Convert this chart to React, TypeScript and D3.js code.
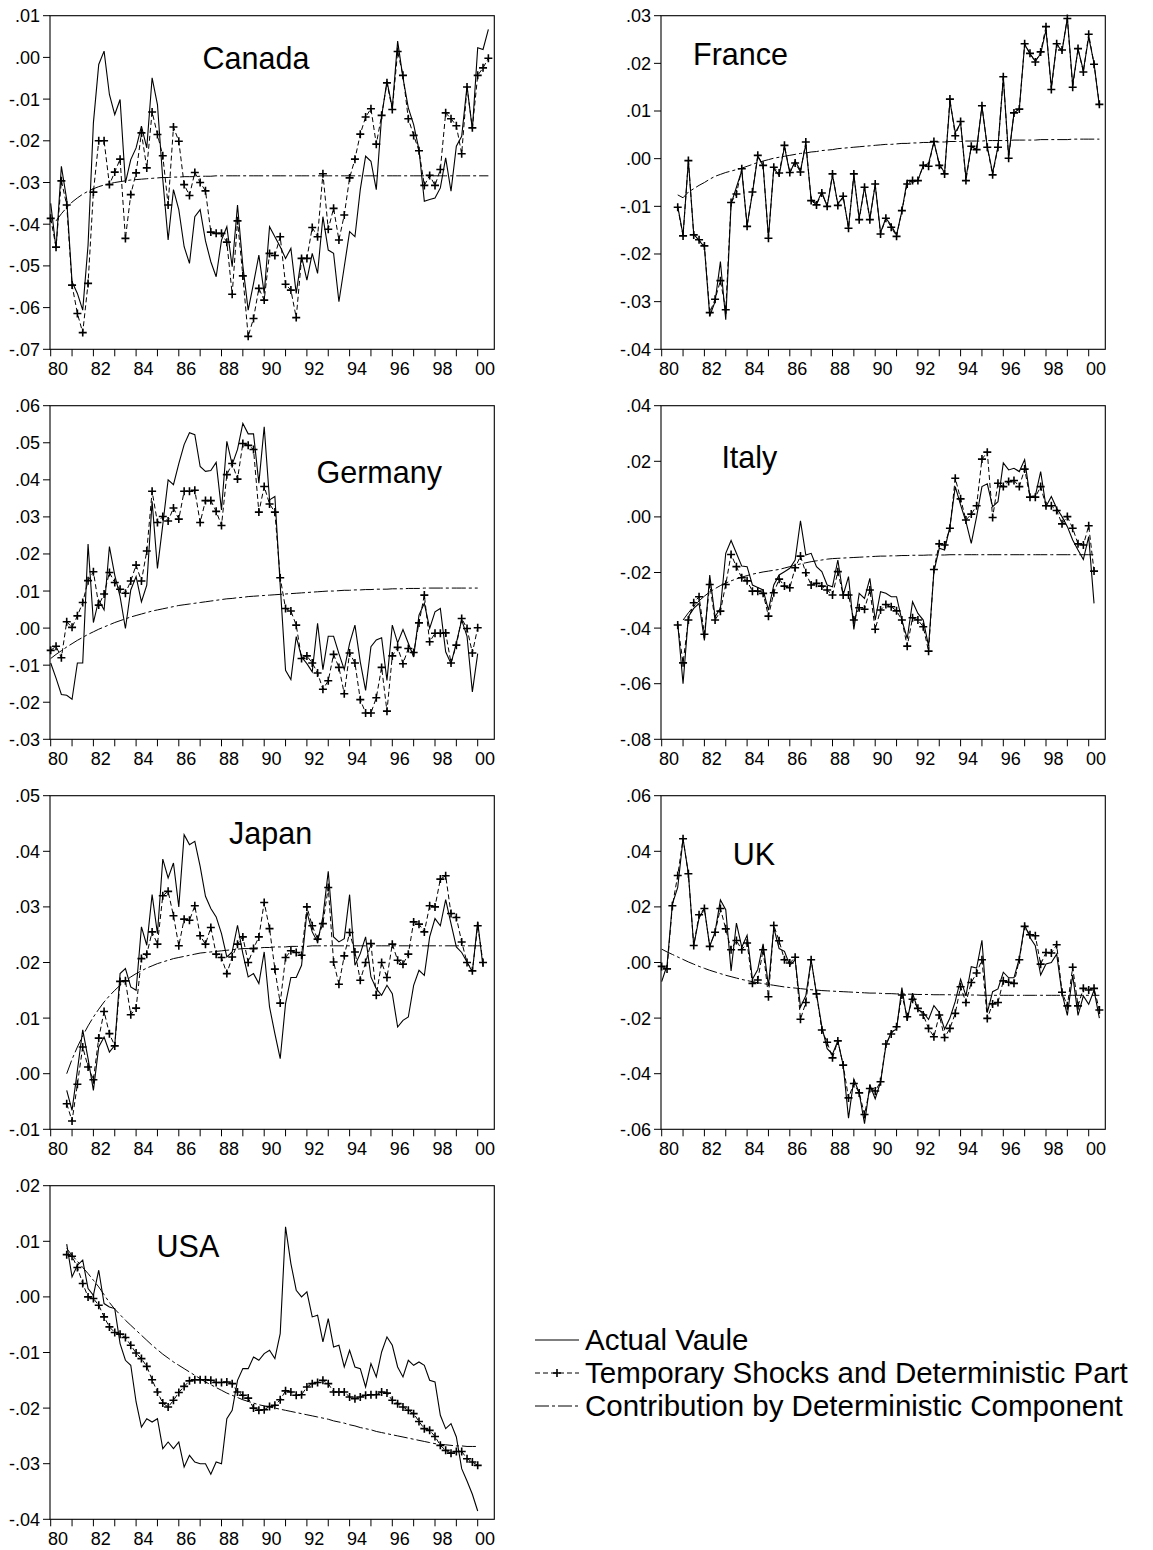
import React from "react";
import * as d3 from "d3";

// ---------- DATA (quarterly, index 0 = 1980Q1) ----------
const yearTicks = [1980,1981,1982,1983,1984,1985,1986,1987,1988,1989,1990,1991,1992,1993,1994,1995,1996,1997,1998,1999,2000];
const yearLabels = ["80","82","84","86","88","90","92","94","96","98","00"];

// Canada
const canadaActualStart = 0;
const canadaActual = [-.0350,-.0458,-.0261,-.0341,-.0538,-.0566,-.0606,-.0450,-.0157,-.0017,.0015,-.0089,-.0137,-.0101,-.0301,-.0245,-.0217,-.0165,-.0217,-.0049,-.0113,-.0293,-.0438,-.0317,-.0365,-.0454,-.0494,-.0382,-.0365,-.0440,-.0490,-.0526,-.0438,-.0406,-.0502,-.0354,-.0500,-.0606,-.0542,-.0474,-.0566,-.0406,-.0430,-.0454,-.0482,-.0458,-.0566,-.0478,-.0534,-.0470,-.0518,-.0382,-.0462,-.0470,-.0586,-.0502,-.0418,-.0430,-.0317,-.0237,-.0249,-.0317,-.0141,-.0057,-.0121,.0039,-.0049,-.0121,-.0161,-.0221,-.0345,-.0341,-.0337,-.0313,-.0241,-.0321,-.0213,-.0189,-.0069,-.0173,.0023,.0019,.0067];
const canadaTempStart = 0;
const canadaTemp = [-.0386,-.0455,-.0296,-.0354,-.0546,-.0614,-.0660,-.0542,-.0323,-.0200,-.0200,-.0305,-.0275,-.0244,-.0434,-.0329,-.0277,-.0181,-.0265,-.0131,-.0185,-.0236,-.0354,-.0167,-.0201,-.0305,-.0331,-.0276,-.0300,-.0320,-.0419,-.0422,-.0422,-.0443,-.0568,-.0392,-.0524,-.0669,-.0626,-.0554,-.0582,-.0470,-.0475,-.0430,-.0544,-.0558,-.0624,-.0482,-.0482,-.0408,-.0430,-.0279,-.0412,-.0362,-.0438,-.0378,-.0289,-.0244,-.0184,-.0143,-.0123,-.0208,-.0139,-.0061,-.0125,.0014,-.0043,-.0147,-.0187,-.0224,-.0307,-.0283,-.0307,-.0269,-.0133,-.0147,-.0164,-.0231,-.0071,-.0169,-.0043,-.0025,-.0002];
const canadaDetStart = 1;
const canadaDet = [-.0392,-.0375,-.0360,-.0347,-.0337,-.0328,-.0321,-.0315,-.0310,-.0306,-.0303,-.0300,-.0298,-.0296,-.0294,-.0293,-.0292,-.0291,-.0290,-.0289,-.0288,-.0288,-.0287,-.0287,-.0286,-.0286,-.0286,-.0285,-.0285,-.0285,-.0284,-.0284,-.0284,-.0284,-.0284,-.0284,-.0284,-.0284,-.0284,-.0284,-.0284,-.0284,-.0284,-.0284,-.0284,-.0284,-.0284,-.0284,-.0284,-.0284,-.0284,-.0284,-.0284,-.0284,-.0284,-.0284,-.0284,-.0284,-.0284,-.0284,-.0284,-.0284,-.0284,-.0284,-.0284,-.0284,-.0284,-.0284,-.0284,-.0284,-.0284,-.0284,-.0284,-.0284,-.0284,-.0284,-.0284,-.0284,-.0284,-.0284,-.0284,-.0284];
const canadaTicks = [-.07,-.06,-.05,-.04,-.03,-.02,-.01,.00,.01];

// France
const franceActualStart = 3;
const franceActual = [-.0100,-.0160,-.0005,-.0158,-.0172,-.0185,-.0330,-.0300,-.0216,-.0338,-.0095,-.0060,-.0025,-.0140,-.0072,.0005,-.0015,-.0165,-.0020,-.0035,.0025,-.0030,-.0005,-.0025,.0030,-.0085,-.0095,-.0070,-.0100,-.0035,-.0095,-.0080,-.0145,-.0035,-.0125,-.0060,-.0125,-.0055,-.0155,-.0125,-.0140,-.0160,-.0110,-.0045,-.0050,-.0045,-.0015,-.0010,.0035,-.0010,-.0030,.0120,.0055,.0075,-.0040,.0025,.0020,.0110,.0025,-.0030,.0025,.0170,.0005,.0095,.0105,.0240,.0220,.0205,.0220,.0270,.0150,.0240,.0225,.0295,.0155,.0230,.0185,.0255,.0200,.0110];
const franceTempStart = 3;
const franceTemp = [-.0102,-.0162,-.0004,-.0160,-.0170,-.0183,-.0323,-.0295,-.0256,-.0317,-.0092,-.0074,-.0021,-.0142,-.0070,.0007,-.0014,-.0167,-.0018,-.0030,.0028,-.0029,-.0009,-.0028,.0035,-.0088,-.0097,-.0072,-.0100,-.0032,-.0098,-.0079,-.0146,-.0032,-.0128,-.0060,-.0128,-.0053,-.0158,-.0125,-.0144,-.0163,-.0109,-.0053,-.0046,-.0046,-.0014,-.0016,.0036,-.0014,-.0032,.0125,.0048,.0078,-.0046,.0026,.0019,.0111,.0024,-.0034,.0024,.0172,.0001,.0096,.0104,.0241,.0221,.0203,.0224,.0277,.0145,.0241,.0228,.0294,.0150,.0231,.0182,.0261,.0198,.0114];
const franceDetStart = 3;
const franceDet = [-.0076,-.0082,-.0070,-.0063,-.0056,-.0050,-.0043,-.0037,-.0033,-.0029,-.0026,-.0023,-.0020,-.0016,-.0012,-.0008,-.0005,-.0002,.0001,.0003,.0005,.0007,.0009,.0011,.0012,.0014,.0015,.0017,.0018,.0019,.0021,.0022,.0023,.0024,.0025,.0026,.0027,.0028,.0029,.0030,.0030,.0031,.0032,.0032,.0033,.0033,.0034,.0034,.0035,.0035,.0035,.0036,.0036,.0036,.0037,.0037,.0037,.0037,.0038,.0038,.0038,.0038,.0038,.0039,.0039,.0039,.0039,.0039,.0040,.0040,.0040,.0040,.0040,.0040,.0041,.0041,.0041,.0041,.0041,.0041];
const franceTicks = [-.04,-.03,-.02,-.01,.00,.01,.02,.03];

// Germany
const germanyActualStart = 0;
const germanyActual = [-.0094,-.0135,-.0179,-.0181,-.0192,-.0094,-.0094,.0227,.0015,.0076,.0049,.0220,.0143,.0085,-.0001,.0103,.0139,.0071,.0116,.0342,.0161,.0279,.0400,.0387,.0444,.0495,.0527,.0522,.0436,.0423,.0425,.0447,.0319,.0504,.0441,.0482,.0552,.0524,.0524,.0391,.0543,.0346,.0355,.0116,-.0114,-.0139,-.0023,-.0078,-.0096,-.0118,.0013,-.0112,-.0022,-.0022,-.0069,-.0112,-.0041,.0008,-.0091,-.0168,-.0050,-.0032,-.0026,-.0141,.0008,-.0040,-.0004,-.0041,-.0078,.0035,.0067,-.0001,.0044,.0053,-.0064,-.0096,-.0040,.0022,-.0022,-.0172,-.0069];
const germanyTempStart = 0;
const germanyTemp = [-.0060,-.0049,-.0080,.0017,.0002,.0033,.0069,.0128,.0152,.0062,.0092,.0150,.0123,.0105,.0094,.0127,.0170,.0127,.0208,.0369,.0285,.0301,.0289,.0324,.0294,.0369,.0369,.0372,.0285,.0344,.0344,.0315,.0277,.0414,.0444,.0402,.0498,.0493,.0482,.0313,.0382,.0335,.0313,.0136,.0053,.0046,.0008,-.0082,-.0075,-.0094,-.0121,-.0165,-.0142,-.0071,-.0106,-.0177,-.0067,-.0094,-.0193,-.0229,-.0229,-.0188,-.0106,-.0224,-.0075,-.0052,-.0096,-.0055,-.0066,.0014,.0089,-.0037,-.0014,-.0014,-.0013,-.0094,-.0046,.0026,-.0001,-.0067,.0001];
const germanyDetStart = 0;
const germanyDet = [-.0082,-.0071,-.0061,-.0051,-.0042,-.0033,-.0025,-.0017,-.0010,-.0003,.0003,.0009,.0015,.0020,.0025,.0030,.0034,.0038,.0042,.0046,.0049,.0052,.0055,.0058,.0061,.0063,.0065,.0067,.0069,.0071,.0073,.0075,.0077,.0079,.0080,.0082,.0083,.0085,.0086,.0087,.0088,.0089,.0090,.0091,.0092,.0093,.0094,.0095,.0096,.0097,.0098,.0099,.0100,.0100,.0101,.0102,.0102,.0103,.0103,.0104,.0104,.0105,.0105,.0105,.0106,.0106,.0106,.0107,.0107,.0107,.0108,.0108,.0108,.0108,.0108,.0108,.0108,.0108,.0108,.0108,.0108];
const germanyTicks = [-.03,-.02,-.01,.00,.01,.02,.03,.04,.05,.06];

// Italy
const italyActualStart = 3;
const italyActual = [-.0383,-.0600,-.0359,-.0329,-.0311,-.0444,-.0209,-.0359,-.0329,-.0131,-.0085,-.0131,-.0177,-.0179,-.0245,-.0254,-.0263,-.0335,-.0245,-.0209,-.0197,-.0185,-.0155,-.0014,-.0137,-.0131,-.0179,-.0197,-.0245,-.0251,-.0155,-.0281,-.0215,-.0405,-.0275,-.0293,-.0221,-.0371,-.0269,-.0275,-.0287,-.0287,-.0371,-.0438,-.0305,-.0347,-.0371,-.0465,-.0197,-.0113,-.0119,-.0035,.0109,.0043,-.0017,-.0095,.0001,.0109,.0119,.0037,.0055,.0194,.0169,.0175,.0163,.0206,.0073,.0076,.0163,.0037,.0073,.0031,.0001,-.0035,-.0083,-.0119,-.0153,-.0071,-.0311];
const italyTempStart = 3;
const italyTemp = [-.0389,-.0525,-.0371,-.0309,-.0287,-.0422,-.0243,-.0371,-.0339,-.0243,-.0135,-.0179,-.0219,-.0230,-.0267,-.0267,-.0275,-.0357,-.0273,-.0224,-.0249,-.0255,-.0183,-.0141,-.0201,-.0245,-.0239,-.0249,-.0263,-.0281,-.0197,-.0281,-.0281,-.0371,-.0327,-.0332,-.0263,-.0404,-.0335,-.0315,-.0323,-.0338,-.0371,-.0465,-.0363,-.0371,-.0395,-.0483,-.0189,-.0097,-.0101,-.0041,.0139,.0065,-.0011,.0010,.0040,.0208,.0233,-.0002,.0121,.0109,.0127,.0131,.0109,.0172,.0071,.0071,.0109,.0040,.0040,.0023,-.0025,.0001,-.0041,-.0097,-.0101,-.0032,-.0195];
const italyDetStart = 4;
const italyDet = [-.0371,-.0345,-.0322,-.0302,-.0285,-.0270,-.0258,-.0247,-.0238,-.0230,-.0223,-.0217,-.0211,-.0206,-.0202,-.0198,-.0195,-.0192,-.0189,-.0184,-.0179,-.0174,-.0169,-.0165,-.0161,-.0158,-.0155,-.0152,-.0150,-.0149,-.0148,-.0147,-.0146,-.0145,-.0144,-.0143,-.0142,-.0141,-.0141,-.0140,-.0140,-.0139,-.0139,-.0138,-.0138,-.0138,-.0137,-.0137,-.0137,-.0137,-.0136,-.0136,-.0136,-.0136,-.0136,-.0136,-.0136,-.0136,-.0136,-.0136,-.0136,-.0136,-.0136,-.0136,-.0136,-.0136,-.0136,-.0136,-.0136,-.0136,-.0136,-.0136,-.0136,-.0136,-.0136,-.0136,-.0136,-.0136];
const italyTicks = [-.08,-.06,-.04,-.02,.00,.02,.04];

// Japan
const japanActualStart = 3;
const japanActual = [-.0030,-.0066,.0006,.0079,.0027,-.0030,.0048,.0066,.0039,.0051,.0180,.0189,.0156,.0150,.0264,.0231,.0322,.0252,.0386,.0352,.0379,.0300,.0430,.0412,.0418,.0373,.0319,.0297,.0282,.0252,.0210,.0219,.0267,.0216,.0174,.0180,.0162,.0219,.0120,.0072,.0027,.0126,.0173,.0173,.0195,.0291,.0255,.0237,.0282,.0364,.0246,.0237,.0243,.0322,.0195,.0216,.0246,.0174,.0153,.0141,.0159,.0144,.0084,.0096,.0102,.0159,.0186,.0177,.0246,.0279,.0266,.0313,.0270,.0228,.0218,.0201,.0183,.0273,.0192];
const japanTempStart = 3;
const japanTemp = [-.0054,-.0085,-.0019,.0048,.0012,-.0011,.0064,.0112,.0072,.0050,.0166,.0167,.0106,.0118,.0207,.0215,.0255,.0233,.0320,.0328,.0284,.0230,.0278,.0276,.0302,.0248,.0233,.0263,.0215,.0209,.0180,.0210,.0233,.0246,.0200,.0225,.0246,.0308,.0261,.0188,.0127,.0209,.0221,.0218,.0213,.0300,.0266,.0242,.0270,.0335,.0201,.0161,.0212,.0254,.0219,.0168,.0200,.0234,.0141,.0200,.0173,.0233,.0204,.0197,.0215,.0273,.0269,.0255,.0302,.0300,.0350,.0356,.0288,.0281,.0237,.0200,.0185,.0266,.0200];
const japanDetStart = 3;
const japanDet = [.0000,.0026,.0048,.0068,.0086,.0102,.0116,.0129,.0140,.0150,.0159,.0167,.0174,.0180,.0185,.0190,.0194,.0198,.0201,.0204,.0207,.0209,.0211,.0213,.0215,.0217,.0218,.0219,.0220,.0221,.0222,.0223,.0224,.0225,.0225,.0226,.0226,.0227,.0227,.0228,.0228,.0228,.0229,.0229,.0229,.0229,.0230,.0230,.0230,.0230,.0230,.0230,.0230,.0230,.0230,.0230,.0230,.0230,.0230,.0230,.0230,.0230,.0230,.0230,.0230,.0230,.0230,.0230,.0230,.0230,.0230,.0230,.0230,.0230,.0230,.0230,.0230,.0230,.0230];
const japanTicks = [-.01,.00,.01,.02,.03,.04,.05];

// UK
const ukActualStart = 0;
const ukActual = [-.0069,-.0010,.0210,.0270,.0445,.0320,.0061,.0160,.0194,.0058,.0110,.0225,.0190,-.0030,.0142,.0055,.0098,-.0060,-.0025,.0067,-.0085,.0125,.0050,.0040,-.0010,.0010,-.0160,-.0120,.0010,-.0113,-.0230,-.0310,-.0330,-.0282,-.0369,-.0560,-.0420,-.0469,-.0580,-.0440,-.0490,-.0430,-.0300,-.0250,-.0240,-.0090,-.0210,-.0110,-.0170,-.0180,-.0205,-.0155,-.0180,-.0240,-.0200,-.0140,-.0060,-.0120,-.0015,-.0020,.0080,-.0180,-.0105,-.0095,-.0035,-.0055,-.0055,.0015,.0135,.0090,.0060,-.0045,-.0005,.0000,.0030,-.0110,-.0190,-.0045,-.0190,-.0120,-.0150,-.0100,-.0200];
const ukTempStart = 0;
const ukTemp = [-.0014,-.0023,.0204,.0313,.0445,.0319,.0061,.0172,.0194,.0058,.0109,.0194,.0121,.0046,.0079,.0046,.0070,-.0075,-.0063,.0046,-.0123,.0133,.0078,.0010,-.0002,.0019,-.0204,-.0144,.0010,-.0113,-.0243,-.0287,-.0343,-.0282,-.0369,-.0487,-.0435,-.0469,-.0547,-.0453,-.0462,-.0429,-.0293,-.0257,-.0231,-.0117,-.0195,-.0132,-.0165,-.0189,-.0237,-.0267,-.0189,-.0270,-.0237,-.0183,-.0087,-.0144,-.0072,-.0038,.0010,-.0201,-.0149,-.0144,-.0066,-.0071,-.0075,.0010,.0130,.0100,.0096,-.0006,.0036,.0034,.0064,-.0107,-.0156,-.0017,-.0156,-.0093,-.0099,-.0093,-.0171];
const ukDetStart = 0;
const ukDet = [.0048,.0038,.0029,.0020,.0011,.0002,-.0006,-.0014,-.0021,-.0028,-.0034,-.0040,-.0046,-.0051,-.0056,-.0061,-.0065,-.0069,-.0073,-.0076,-.0079,-.0082,-.0085,-.0088,-.0090,-.0092,-.0094,-.0096,-.0098,-.0099,-.0101,-.0102,-.0103,-.0104,-.0105,-.0106,-.0107,-.0108,-.0109,-.0110,-.0110,-.0111,-.0112,-.0112,-.0113,-.0113,-.0114,-.0114,-.0115,-.0115,-.0115,-.0116,-.0116,-.0116,-.0116,-.0117,-.0117,-.0117,-.0117,-.0117,-.0118,-.0118,-.0118,-.0118,-.0118,-.0118,-.0118,-.0118,-.0118,-.0118,-.0118,-.0118,-.0118,-.0118,-.0118,-.0118,-.0118,-.0118,-.0118,-.0118,-.0118,-.0118,-.0118];
const ukTicks = [-.06,-.04,-.02,.00,.02,.04,.06];

// USA
const usaActualStart = 3;
const usaActual = [.0095,.0036,.0057,.0066,.0015,.0003,.0048,-.0012,-.0018,-.0021,-.0084,-.0114,-.0123,-.0189,-.0234,-.0219,-.0225,-.0219,-.0273,-.0261,-.0273,-.0261,-.0306,-.0285,-.0297,-.0300,-.0300,-.0319,-.0297,-.0300,-.0219,-.0204,-.0150,-.0129,-.0129,-.0108,-.0114,-.0102,-.0096,-.0111,-.0066,.0126,.0060,.0012,.0000,.0009,-.0036,-.0033,-.0081,-.0039,-.0090,-.0087,-.0126,-.0096,-.0126,-.0129,-.0162,-.0120,-.0144,-.0099,-.0072,-.0087,-.0126,-.0144,-.0114,-.0123,-.0117,-.0123,-.0150,-.0153,-.0213,-.0237,-.0228,-.0252,-.0309,-.0331,-.0355,-.0385];
const usaTempStart = 3;
const usaTemp = [.0076,.0073,.0053,.0024,.0000,-.0003,-.0015,-.0036,-.0054,-.0064,-.0067,-.0073,-.0087,-.0101,-.0111,-.0125,-.0149,-.0171,-.0191,-.0198,-.0186,-.0172,-.0161,-.0151,-.0149,-.0149,-.0149,-.0150,-.0154,-.0154,-.0153,-.0156,-.0171,-.0177,-.0182,-.0200,-.0204,-.0203,-.0197,-.0195,-.0185,-.0169,-.0171,-.0177,-.0176,-.0162,-.0156,-.0154,-.0150,-.0156,-.0171,-.0171,-.0171,-.0180,-.0183,-.0180,-.0177,-.0176,-.0176,-.0171,-.0173,-.0186,-.0192,-.0198,-.0204,-.0210,-.0224,-.0237,-.0240,-.0251,-.0267,-.0276,-.0281,-.0278,-.0278,-.0291,-.0297,-.0303];
const usaDetStart = 3;
const usaDet = [.0087,.0075,.0064,.0053,.0042,.0030,.0018,.0004,-.0010,-.0022,-.0032,-.0042,-.0051,-.0060,-.0069,-.0078,-.0087,-.0095,-.0103,-.0110,-.0117,-.0123,-.0129,-.0135,-.0141,-.0147,-.0153,-.0158,-.0163,-.0168,-.0173,-.0177,-.0181,-.0185,-.0188,-.0191,-.0194,-.0196,-.0198,-.0200,-.0202,-.0204,-.0206,-.0208,-.0210,-.0212,-.0214,-.0216,-.0218,-.0220,-.0223,-.0225,-.0227,-.0230,-.0232,-.0235,-.0237,-.0239,-.0242,-.0244,-.0246,-.0248,-.0250,-.0252,-.0254,-.0256,-.0258,-.0260,-.0262,-.0264,-.0265,-.0266,-.0267,-.0268,-.0268,-.0269,-.0269,-.0269];
const usaTicks = [-.04,-.03,-.02,-.01,.00,.01,.02];

// ---------- LAYOUT ----------
const FONT = "'Liberation Sans', Arial, Helvetica, sans-serif";
const FRAME_W = 444.3;
const FRAME_H = 333.6;
const COL_X = [50, 661];
const ROW_Y = [15.7, 405.7, 795.7, 1185.7];
const Q_STEP = 5.3375;

type PanelCfg = {
  name: string;
  col: number; row: number;
  titleX: number; titleY: number;
  ticks: number[];
  actual: number[]; actualStart: number;
  temp: number[]; tempStart: number;
  det: number[]; detStart: number;
};

const panels: PanelCfg[] = [
  { name: "Canada", col: 0, row: 0, titleX: 202.5, titleY: 68.5, ticks: canadaTicks,
    actual: canadaActual, actualStart: canadaActualStart, temp: canadaTemp, tempStart: canadaTempStart, det: canadaDet, detStart: canadaDetStart },
  { name: "France", col: 1, row: 0, titleX: 693, titleY: 64.5, ticks: franceTicks,
    actual: franceActual, actualStart: franceActualStart, temp: franceTemp, tempStart: franceTempStart, det: franceDet, detStart: franceDetStart },
  { name: "Germany", col: 0, row: 1, titleX: 316.5, titleY: 483, ticks: germanyTicks,
    actual: germanyActual, actualStart: germanyActualStart, temp: germanyTemp, tempStart: germanyTempStart, det: germanyDet, detStart: germanyDetStart },
  { name: "Italy", col: 1, row: 1, titleX: 721.4, titleY: 467.5, ticks: italyTicks,
    actual: italyActual, actualStart: italyActualStart, temp: italyTemp, tempStart: italyTempStart, det: italyDet, detStart: italyDetStart },
  { name: "Japan", col: 0, row: 2, titleX: 229, titleY: 844.2, ticks: japanTicks,
    actual: japanActual, actualStart: japanActualStart, temp: japanTemp, tempStart: japanTempStart, det: japanDet, detStart: japanDetStart },
  { name: "UK", col: 1, row: 2, titleX: 732.8, titleY: 865.2, ticks: ukTicks,
    actual: ukActual, actualStart: ukActualStart, temp: ukTemp, tempStart: ukTempStart, det: ukDet, detStart: ukDetStart },
  { name: "USA", col: 0, row: 3, titleX: 156.6, titleY: 1256.9, ticks: usaTicks,
    actual: usaActual, actualStart: usaActualStart, temp: usaTemp, tempStart: usaTempStart, det: usaDet, detStart: usaDetStart },
];

const fmt = (v: number) => {
  const s = Math.abs(v).toFixed(2).replace(/^0/, "");
  return (v < -1e-9 ? "-" : "") + s;
};

const DET_DASH = "14,3,3,3";
const TEMP_DASH = "5,3";

function Plus({ x, y }: { x: number; y: number }) {
  return <path d={`M${x - 4},${y}H${x + 4}M${x},${y - 4}V${y + 4}`} stroke="#000" strokeWidth={1.6} fill="none" />;
}

function Panel({ p }: { p: PanelCfg }) {
  const x0 = COL_X[p.col];
  const y0 = ROW_Y[p.row];
  const x = d3.scaleLinear().domain([0, 83]).range([x0 + 0.7, x0 + 0.7 + 83 * Q_STEP]);
  const y = d3.scaleLinear().domain([p.ticks[0], p.ticks[p.ticks.length - 1]]).range([y0 + FRAME_H, y0]);
  const mk = (start: number) => d3.line<number>().x((_, k) => x(start + k)).y((d) => y(d));
  const bottom = y0 + FRAME_H;
  return (
    <g>
      <rect x={x0} y={y0} width={FRAME_W} height={FRAME_H} fill="#fff" stroke="#000" strokeWidth={1.1} />
      {p.ticks.map((t) => (
        <g key={t}>
          <line x1={x0 - 7} x2={x0} y1={y(t)} y2={y(t)} stroke="#000" strokeWidth={1} />
          <text x={x0 - 10} y={y(t)} dy="0.36em" textAnchor="end" fontSize={18} fontFamily={FONT}>{fmt(t)}</text>
        </g>
      ))}
      {yearTicks.map((yr) => (
        <line key={yr} x1={x((yr - 1980) * 4)} x2={x((yr - 1980) * 4)} y1={bottom} y2={bottom + 7} stroke="#000" strokeWidth={1} />
      ))}
      {yearLabels.map((lab, k) => (
        <text key={lab} x={x(k * 8) + 7.4} y={bottom + 25.5} textAnchor="middle" fontSize={18} fontFamily={FONT}>{lab}</text>
      ))}
      <path d={mk(p.detStart)(p.det) || ""} fill="none" stroke="#000" strokeWidth={1} strokeDasharray={DET_DASH} />
      <path d={mk(p.tempStart)(p.temp) || ""} fill="none" stroke="#000" strokeWidth={1} strokeDasharray={TEMP_DASH} />
      <path d={mk(p.actualStart)(p.actual) || ""} fill="none" stroke="#000" strokeWidth={1.1} />
      {p.temp.map((d, k) => <Plus key={k} x={x(p.tempStart + k)} y={y(d)} />)}
      <text x={p.titleX} y={p.titleY} fontSize={30.5} fontFamily={FONT}>{p.name}</text>
    </g>
  );
}

const legendItems = ["Actual Vaule", "Temporary Shocks and Deterministic Part", "Contribution by Deterministic Component"];

export default function App() {
  const lx1 = 535, lx2 = 579;
  const ly = [1340, 1373, 1406];
  return (
    <svg width={1153} height={1550} viewBox="0 0 1153 1550"
      style={{ display: "block", position: "absolute", left: 0, top: 0, background: "#fff" }}>
      <rect x={0} y={0} width={1153} height={1550} fill="#fff" />
      {panels.map((p) => <Panel key={p.name} p={p} />)}
      <g>
        <line x1={lx1} x2={lx2} y1={ly[0]} y2={ly[0]} stroke="#000" strokeWidth={1.1} />
        <line x1={lx1} x2={lx2} y1={ly[1]} y2={ly[1]} stroke="#000" strokeWidth={1} strokeDasharray={TEMP_DASH} />
        <Plus x={(lx1 + lx2) / 2} y={ly[1]} />
        <line x1={lx1} x2={lx2} y1={ly[2]} y2={ly[2]} stroke="#000" strokeWidth={1} strokeDasharray={DET_DASH} />
        {legendItems.map((t, k) => (
          <text key={t} x={585} y={ly[k] + 10} fontSize={29.5} fontFamily={FONT}>{t}</text>
        ))}
      </g>
    </svg>
  );
}
